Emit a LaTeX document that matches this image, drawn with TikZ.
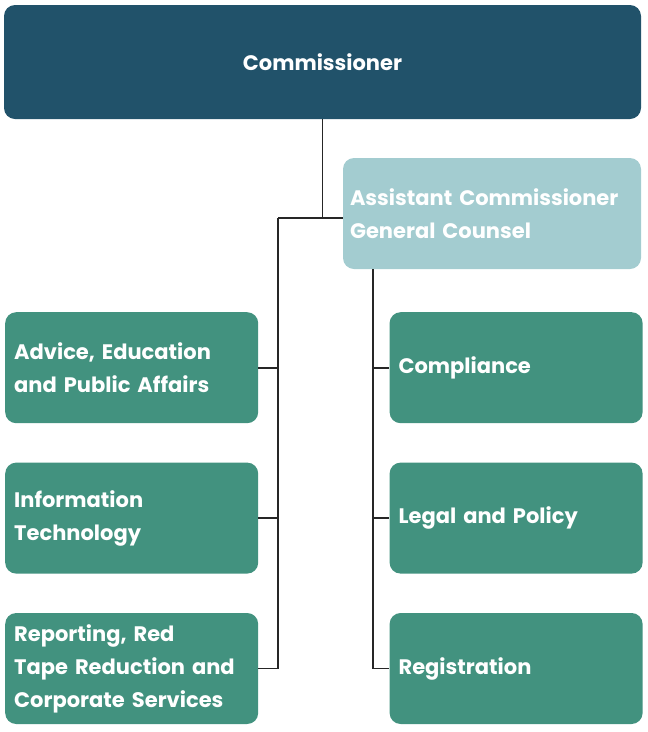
\documentclass[tikz,border=0pt]{standalone}
\usepackage{fontspec}
\setmainfont{Poppins}
\usetikzlibrary{positioning, calc}
\definecolor{commblue}{HTML}{21526A}
\definecolor{asstblue}{HTML}{A3CCD0}
\definecolor{unitgreen}{HTML}{42927F}

\begin{document}
\begin{tikzpicture}[x=1pt, y=-1pt,
        node distance=39pt and 131pt,
        box/.style={rounded corners=11pt, text=white, inner sep=0pt, inner xsep=9pt,
            font=\fontsize{21}{33}\selectfont\bfseries},
        unit/.style={box, fill=unitgreen, minimum width=253pt, minimum height=111pt,
            text width=235pt, align=left},
        link/.style={draw=black!85, line width=1.6pt}]
        \useasboundingbox (0,0) rectangle (648,732);

        \node[box, fill=commblue, minimum width=637pt, minimum height=114pt] (comm) at (322.5,62) {Commissioner};
        \node[box, fill=asstblue, minimum width=298pt, minimum height=111pt,
            inner xsep=7pt, text width=284pt, align=left] (asst) at (492,213.5)
            {Assistant Commissioner\\General Counsel};

        \node[unit, anchor=north west] (adv) at (5,312) {Advice, Education\\and Public Affairs};
        \node[unit, below=of adv] (it) {Information\\Technology};
        \node[unit, below=of it] (rep) {Reporting, Red\\Tape Reduction and\\Corporate Services};

        \node[unit, right=of adv] (comp) {Compliance};
        \node[unit, right=of it] (legal) {Legal and Policy};
        \node[unit, right=of rep] (reg) {Registration};

        \coordinate (trunk) at (278,218);
        \coordinate (spine) at ($(asst.south west)+(30,0)$);

        \draw[link] (comm.south) -- (comm.south |- trunk);
        \draw[link] (trunk) -- (asst.west |- trunk);
        \draw[link] (trunk) |- (rep.east);
        \draw[link] (spine) |- (reg.west);
        \foreach \n in {adv, it}
            \draw[link] (trunk |- \n.east) -- (\n.east);
        \foreach \n in {comp, legal}
            \draw[link] (spine |- \n.west) -- (\n.west);
    \end{tikzpicture}
\end{document}
